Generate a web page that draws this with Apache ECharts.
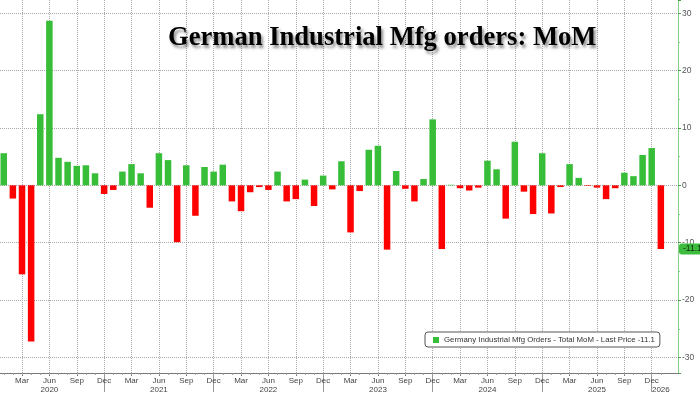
<!DOCTYPE html>
<html><head><meta charset="utf-8">
<script src="https://cdn.jsdelivr.net/npm/echarts@6/dist/echarts.min.js"></script>
<style>html,body{margin:0;padding:0;background:#fff}#c{width:700px;height:394px}</style>
</head><body><div id="c"></div>
<script>
// ---- data ----
const monthNames = ['Jan','Feb','Mar','Apr','May','Jun','Jul','Aug','Sep','Oct','Nov','Dec'];
const years = ['2020','2021','2022','2023','2024','2025','2026'];
// monthly categories Jan 2020 .. Jan 2026
const categories = [];
years.forEach(y => monthNames.forEach(m => categories.push(m + ' ' + y)));
categories.length = 73;
const values = [
  5.6, -2.3, -15.5, -27.2, 12.4, 28.7, 4.8, 4.1, 3.4, 3.5, 2.1, -1.5,
  -0.8, 2.4, 3.7, 2.1, -3.9, 5.6, 4.4, -9.9, 3.5, -5.3, 3.2, 2.4,
  3.6, -2.8, -4.5, -1.2, -0.3, -0.8, 2.4, -2.8, -2.4, 1.0, -3.6, 1.7,
  -0.7, 4.2, -8.2, -1.0, 6.2, 6.9, -11.2, 2.5, -0.6, -2.8, 1.1, 11.5,
  -11.1, 0.1, -0.5, -0.9, -0.4, 4.3, 2.8, -5.8, 7.6, -1.1, -5.0, 5.6,
  -4.9, -0.3, 3.7, 1.3, -0.1, -0.4, -2.4, -0.5, 2.2, 1.6, 5.3, 6.5,
  -11.1
];
const quarterMonths = ['Mar','Jun','Sep','Dec'];
const seriesName = 'Germany Industrial Mfg Orders - Total MoM - Last Price -11.1';
const chartTitle = 'German Industrial Mfg orders: MoM';

// ---- derived ----
const GREEN = '#37bd37', RED = '#ff0000';
const idx = categories.map((_, i) => i);
const quarterIdx = idx.filter(i => quarterMonths.includes(categories[i].split(' ')[0]));
const decIdx = idx.filter(i => categories[i].startsWith('Dec'));
const yearsWithJun = new Set(idx.filter(i => categories[i].startsWith('Jun')).map(i => categories[i].split(' ')[1]));
const yearOnlyIdx = idx.filter(i => categories[i].startsWith('Jan') && !yearsWithJun.has(categories[i].split(' ')[1]));
const lastValue = values[values.length - 1];

const X_MIN = -0.411, X_MAX = 73.88;
const font = "'Liberation Sans Narrow', 'Liberation Sans', Arial, sans-serif";
const labelStyle = { fontFamily: font, fontSize: 8, color: '#444', lineHeight: 9 };
const dotted = { color: '#a8a8a8', type: 'dotted', width: 1 };

const chart = echarts.init(document.getElementById('c'), null, { renderer: 'canvas' });
chart.setOption({
  animation: false,
  backgroundColor: '#fff',
  title: {
    text: chartTitle, left: 163, top: 20,
    textStyle: {
      fontFamily: "'Liberation Serif', 'Times New Roman', serif", fontWeight: 'bold', fontSize: 26.6, color: '#000',
      textShadowColor: 'rgba(0,0,0,0.45)', textShadowBlur: 3, textShadowOffsetX: 2, textShadowOffsetY: 3
    }
  },
  legend: {
    left: 425, top: 332, orient: 'horizontal',
    data: [{ name: seriesName, itemStyle: { color: GREEN } }],
    icon: 'rect', itemWidth: 6, itemHeight: 6, itemGap: 4,
    backgroundColor: '#fff', borderColor: '#555', borderWidth: 1, borderRadius: 3,
    padding: [4, 5, 3, 8],
    textStyle: { fontFamily: font, fontSize: 7.8, color: '#333' },
    selectedMode: false
  },
  grid: { left: 0, right: 22, top: 0, bottom: 19, containLabel: false },
  xAxis: [
    { // quarter ticks + month labels + quarter grid
      type: 'value', min: X_MIN, max: X_MAX, position: 'bottom',
      axisLine: { show: true, onZero: false, lineStyle: { color: '#777', width: 1 } },
      axisTick: { show: true, customValues: quarterIdx, length: 3, lineStyle: { color: '#777' } },
      axisLabel: Object.assign({
        show: true, customValues: quarterIdx, margin: 3,
        formatter: v => {
          const c = categories[Math.round(v)]; if (!c) return '';
          const [m, y] = c.split(' ');
          return m === 'Jun' ? m + '\n' + y : m;
        }
      }, labelStyle),
      splitLine: { show: true, lineStyle: dotted }
    },
    { // monthly minor ticks
      type: 'value', min: X_MIN, max: X_MAX, position: 'bottom',
      axisLine: { show: false, onZero: false },
      axisTick: { show: true, customValues: idx, length: 2, lineStyle: { color: '#999' } },
      axisLabel: { show: false }, splitLine: { show: false }
    },
    { // year separators + trailing year label
      type: 'value', min: X_MIN, max: X_MAX, position: 'bottom',
      axisLine: { show: false, onZero: false },
      axisTick: { show: true, customValues: decIdx, length: 19, lineStyle: { color: '#999' } },
      axisLabel: Object.assign({
        show: true, customValues: yearOnlyIdx, margin: 12,
        formatter: v => { const c = categories[Math.round(v)]; return c ? c.split(' ')[1] : ''; }
      }, labelStyle),
      splitLine: { show: false }
    }
  ],
  yAxis: {
    type: 'value', min: -32.7, max: 32.3, splitNumber: 6, position: 'right',
    axisLine: { show: true, onZero: false, lineStyle: { color: '#86cf86', width: 1 } },
    axisTick: { show: true, length: 3, lineStyle: { color: '#4a9a4a' } },
    minorTick: { show: true, splitNumber: 2, length: 2, lineStyle: { color: '#86cf86' } },
    axisLabel: { show: true, margin: 4, showMinLabel: false, showMaxLabel: false, fontFamily: font, fontSize: 8.5, color: '#555' },
    splitLine: { show: true, showMinLine: false, showMaxLine: false, lineStyle: dotted }
  },
  series: [
    {
      name: seriesName, type: 'bar', xAxisIndex: 0, yAxisIndex: 0, z: 3,
      barWidth: 6.5, itemStyle: { color: GREEN },
      data: values.map((v, i) => ({ value: [i, v], itemStyle: { color: v >= 0 ? GREEN : RED } })),
      markLine: {
        silent: true, symbol: 'none', animation: false,
        lineStyle: { color: 'rgba(0,0,0,0)', width: 0 },
        data: [{ yAxis: lastValue }],
        label: {
          show: true, position: 'end', distance: 1,
          formatter: () => lastValue.toFixed(1),
          backgroundColor: '#3dbb3d', color: '#0c2a0c', fontFamily: font, fontSize: 8.5,
          padding: [1, 3, 1, 4], borderRadius: 3
        }
      }
    }
  ]
});
</script></body></html>
